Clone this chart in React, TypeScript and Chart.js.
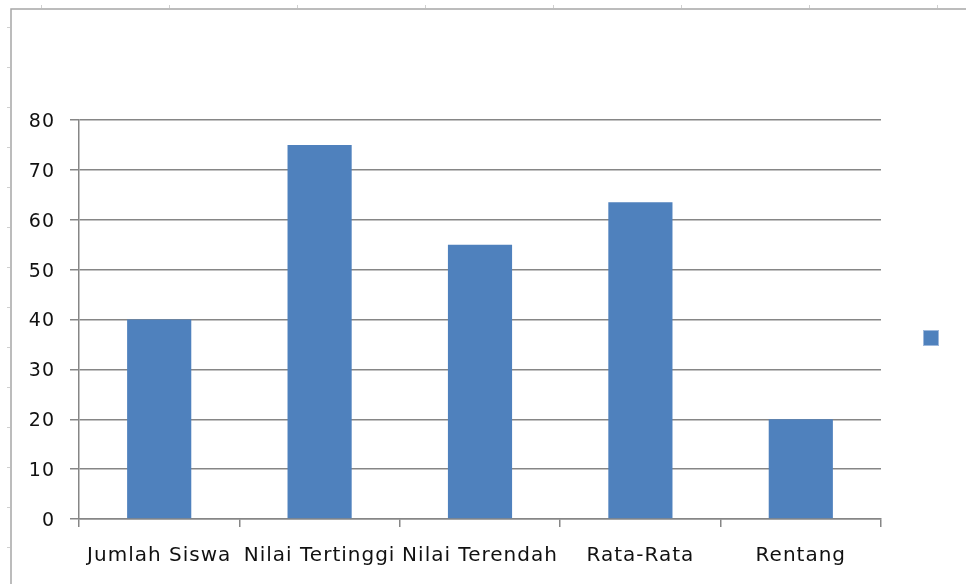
import React, { useEffect, useRef } from "react";
import { Chart, registerables } from "chart.js";

Chart.register(...registerables);

const categories = ["Jumlah Siswa", "Nilai Tertinggi", "Nilai Terendah", "Rata-Rata", "Rentang"];
const values = [40, 75, 55, 63.5, 20];
const yMin = 0;
const yMax = 80;
const yStep = 10;
const barColor = "#4F81BD";

const framePlugin = {
  id: "frame",
  beforeDraw(chart: any) {
    const ctx = chart.ctx;
    const w = chart.width;
    const h = chart.height;
    ctx.save();
    ctx.fillStyle = "#ffffff";
    ctx.fillRect(0, 0, w, h);
    ctx.strokeStyle = "#a6a6a6";
    ctx.lineWidth = 1.5;
    ctx.beginPath();
    ctx.moveTo(11, h);
    ctx.lineTo(11, 9);
    ctx.lineTo(w + 2, 9);
    ctx.stroke();
    ctx.strokeStyle = "#d0d0d0";
    ctx.lineWidth = 1;
    ctx.beginPath();
    for (let y = 27; y < h; y += 40) {
      ctx.moveTo(7, y + 0.5);
      ctx.lineTo(10, y + 0.5);
    }
    for (let x = 41; x < w; x += 128) {
      ctx.moveTo(x + 0.5, 5);
      ctx.lineTo(x + 0.5, 8);
    }
    ctx.stroke();
    ctx.restore();
    (ctx as any).letterSpacing = "1px";
  },
  afterDraw(chart: any) {
    const ctx = chart.ctx;
    (ctx as any).letterSpacing = "0px";
    const a = chart.chartArea;
    const x = a.right + 43;
    const y = 331;
    ctx.save();
    ctx.fillStyle = chart.data.datasets[0].backgroundColor;
    ctx.fillRect(x, y, 14, 14);
    ctx.strokeStyle = "#9db8dc";
    ctx.lineWidth = 1;
    ctx.strokeRect(x - 0.5, y - 0.5, 15, 15);
    ctx.restore();
  },
};

export default function App() {
  const ref = useRef<HTMLCanvasElement | null>(null);
  useEffect(() => {
    document.body.style.margin = "0";
    if (!ref.current) return;
    const chart = new Chart(ref.current, {
      type: "bar",
      data: {
        labels: categories,
        datasets: [
          {
            label: "",
            data: values,
            backgroundColor: barColor,
            borderWidth: 0,
            categoryPercentage: 1,
            barPercentage: 0.4,
          },
        ],
      },
      options: {
        responsive: false,
        animation: false,
        devicePixelRatio: 1,
        layout: { padding: { top: 120, right: 85, left: 0, bottom: 0 } },
        plugins: {
          legend: { display: false },
          tooltip: { enabled: false },
          title: { display: false },
        },
        scales: {
          x: {
            offset: true,
            grid: {
              display: true,
              offset: true,
              drawOnChartArea: false,
              drawTicks: true,
              tickLength: 8,
              color: "#868686",
              lineWidth: 1.5,
            },
            border: { display: true, color: "#868686", width: 1.5 },
            ticks: {
              autoSkip: false,
              maxRotation: 0,
              minRotation: 0,
              padding: 17,
              color: "#111111",
              font: { family: "'DejaVu Sans'", size: 20 },
            },
            afterFit(scale: any) {
              scale.height = 65;
            },
          },
          y: {
            min: yMin,
            max: yMax,
            ticks: {
              stepSize: yStep,
              padding: 15,
              labelOffset: 2,
              color: "#111111",
              font: { family: "'DejaVu Sans'", size: 19 },
            },
            grid: {
              color: "#868686",
              lineWidth: 1.5,
              tickLength: 9,
            },
            border: { display: true, color: "#868686", width: 1.5 },
            afterFit(scale: any) {
              scale.width = 79;
            },
          },
        },
      },
      plugins: [framePlugin],
    });
    return () => chart.destroy();
  }, []);
  return (
    <div style={{ position: "absolute", left: 0, top: 0, width: 966, height: 584 }}>
      <canvas ref={ref} width={966} height={584} style={{ display: "block" }} />
    </div>
  );
}
